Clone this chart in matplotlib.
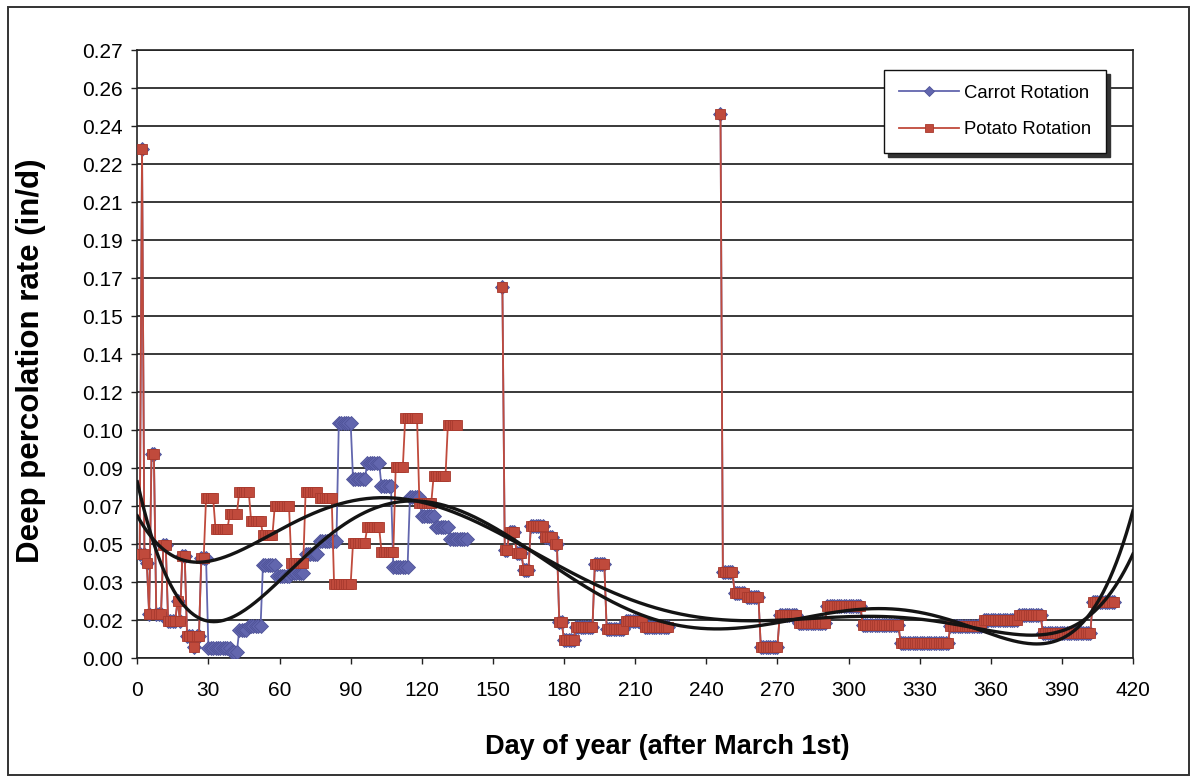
import numpy as np
import matplotlib
matplotlib.use("Agg")
import matplotlib.pyplot as plt
from matplotlib.patches import Rectangle
from numpy.polynomial import Polynomial

plt.rcParams['font.family'] = ['Liberation Sans', 'DejaVu Sans']

# Daily deep percolation (in/d), held constant from each listed day until the next;
# NaN marks days without a record.
potato_step_day = [1, 2, 3, 4, 5, 6, 8, 11, 13, 17, 18, 19, 21, 24, 25, 27,
                   29, 33, 39, 43, 48, 53, 58, 65, 71, 77, 83, 91, 97, 103,
                   109, 113, 119, 125, 131, 136,
                   154, 155, 157, 160, 163, 166, 172, 176, 178, 180, 185,
                   193, 198, 206, 214, 225,
                   246, 247, 252, 257, 263, 271, 279, 291, 306, 322, 343,
                   357, 372, 382, 403]
potato_step_val = [0.047, 0.229, 0.047, 0.043, 0.020, 0.092, 0.020, 0.051,
                   0.017, 0.026, 0.017, 0.046, 0.010, 0.005, 0.010, 0.045,
                   0.072, 0.058, 0.065, 0.075, 0.062, 0.0555, 0.0685, 0.0428,
                   0.075, 0.072, 0.0334, 0.052, 0.059, 0.048,
                   0.086, 0.108, 0.070, 0.082, 0.105, np.nan,
                   0.167, 0.0487, 0.057, 0.0473, 0.0397, 0.0597, 0.0545,
                   0.0514, 0.0165, 0.0082, 0.0142,
                   0.0424, 0.013, 0.0169, 0.014, np.nan,
                   0.245, 0.039, 0.0295, 0.0277, 0.0052, 0.0195, 0.016,
                   0.0235, 0.015, 0.007, 0.0147,
                   0.0172, 0.0195, 0.0115, 0.0255]
potato_end_day = 413

# Carrot rotation differs from potato only during its growing season;
# outside these days the two rotations share the same record.
carrot_step_day = [29, 30, 40, 43, 47, 53, 59, 65, 71, 77, 85, 91, 97, 103,
                   108, 115, 120, 126, 132, 140]
carrot_step_val = [0.045, 0.0045, 0.0028, 0.0127, 0.0145, 0.042, 0.037,
                   0.0385, 0.047, 0.053, 0.1058, 0.0807, 0.088, 0.0775,
                   0.041, 0.0725, 0.064, 0.0592, 0.0536, np.nan]
carrot_end_day = 154

x_ticks = [0, 30, 60, 90, 120, 150, 180, 210, 240, 270, 300, 330, 360, 390, 420]
y_tick_step = 0.0171
y_tick_labels = ['0.00', '0.02', '0.03', '0.05', '0.07', '0.09', '0.10', '0.12',
                 '0.14', '0.15', '0.17', '0.19', '0.21', '0.22', '0.24', '0.26',
                 '0.27']

days = np.arange(0, 421)


def expand(step_day, step_val, end_day):
    out = np.full(days.shape, np.nan)
    bounds = list(step_day) + [end_day]
    for i, v in enumerate(step_val):
        out[(days >= bounds[i]) & (days < bounds[i + 1])] = v
    return out


potato = expand(potato_step_day, potato_step_val, potato_end_day)
carrot = potato.copy()
own = (days >= carrot_step_day[0]) & (days < carrot_end_day)
carrot[own] = expand(carrot_step_day, carrot_step_val, carrot_end_day)[own]


def trend(y, deg=6):
    ok = np.isfinite(y)
    p = Polynomial.fit(days[ok], y[ok], deg)
    xs = np.linspace(0, 420, 600)
    return xs, p(xs)


W, H = 1195, 778
fig = plt.figure(figsize=(W / 100, H / 100), dpi=100)
ax = fig.add_axes([137.3 / W, 1 - 658.3 / H, (1133 - 137.3) / W, (658.3 - 50.3) / H])

blue = '#6266ae'
red = '#c04a3c'

ax.plot(days, carrot, color=blue, lw=1.3, marker='D', ms=7,
        mfc=blue, mec='#4e5298', mew=0.6, label='Carrot Rotation', zorder=3)
ax.plot(days, potato, color=red, lw=1.3, marker='s', ms=7.2,
        mfc=red, mec='#a83a2e', mew=0.6, label='Potato Rotation', zorder=4)

for series in (carrot, potato):
    tx, ty = trend(series)
    ax.plot(tx, ty, color='#141414', lw=2.4, zorder=5)

ax.set_xlim(0, 420)
ax.set_ylim(0, y_tick_step * (len(y_tick_labels) - 1))
ax.set_xticks(x_ticks)
ax.set_xticklabels([str(v) for v in x_ticks])
ax.set_yticks([i * y_tick_step for i in range(len(y_tick_labels))])
ax.set_yticklabels(y_tick_labels)
ax.tick_params(axis='both', labelsize=15, direction='out', length=4.5,
               width=1.0, color='#222222')
ax.tick_params(axis='x', pad=12)
ax.tick_params(axis='y', pad=6)
ax.yaxis.grid(True, color='#2a2a2a', lw=1.3)
ax.set_axisbelow(True)
for s in ax.spines.values():
    s.set_color('#222222')
    s.set_linewidth(1.2)

ax.set_xlabel('Day of year (after March 1st)', fontsize=19.5, fontweight='bold')
ax.xaxis.set_label_coords((667 - 137.3) / (1133 - 137.3),
                          -(747 - 658.3) / (658.3 - 50.3), transform=ax.transAxes)
ax.xaxis.label.set_va('center')
ax.set_ylabel('Deep percolation rate (in/d)', fontsize=22.5, fontweight='bold')
ax.yaxis.set_label_coords(-(137.3 - 31) / (1133 - 137.3),
                          (658.3 - 361) / (658.3 - 50.3), transform=ax.transAxes)
ax.yaxis.label.set_va('center')

leg = ax.legend(loc='upper right', bbox_to_anchor=((1106 - 137.3) / (1133 - 137.3),
                                                   (658.3 - 70) / (658.3 - 50.3)),
                borderaxespad=0, fontsize=13.3, frameon=True, fancybox=False,
                handlelength=3.3, handletextpad=0.25, labelspacing=1.05,
                borderpad=0.8, markerscale=0.8,
                shadow={'color': '#333333', 'alpha': 1.0, 'ox': 3, 'oy': -3})
leg.get_frame().set_edgecolor('#111111')
leg.get_frame().set_linewidth(1.0)
leg.get_frame().set_facecolor('white')
leg.get_frame().set_alpha(1.0)
leg.set_zorder(10)

# page frame around the figure
fig.patches.append(Rectangle((8 / W, 1 - 775 / H), (1189 - 8) / W, (775 - 7) / H,
                             transform=fig.transFigure, fill=False,
                             edgecolor='#333333', lw=1.4))

fig.savefig('out.png', dpi=100)
